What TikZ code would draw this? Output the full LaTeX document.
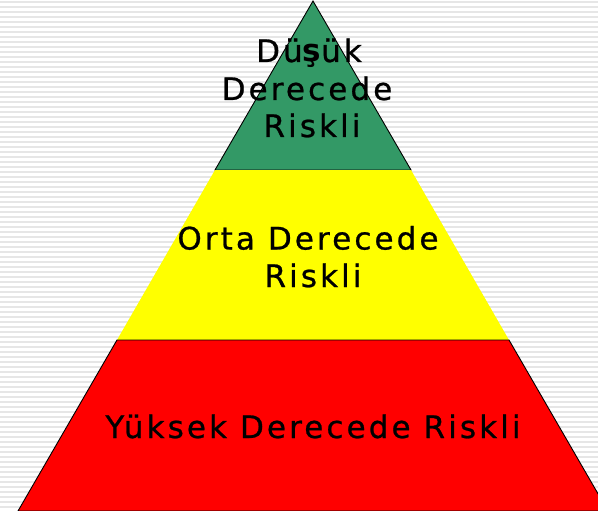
\documentclass[tikz,border=0pt]{standalone}
\usepackage{fontspec}
\newfontfamily\lblfont{DejaVu Sans}[LetterSpace=10, FakeBold=0.8]
\newfontfamily\lblboldfont{DejaVu Sans Bold}[LetterSpace=10]
\definecolor{stripe}{RGB}{230,230,230}
\definecolor{lowgreen}{RGB}{51,153,102}
\definecolor{midyellow}{RGB}{255,255,0}
\definecolor{highred}{RGB}{255,0,0}
\tikzset{
  lbl/.style={anchor=base, inner sep=0pt, font=\lblfont\fontsize{31}{37.5}\selectfont, text=black},
  band/.style={draw=black, line width=0.9pt, line join=miter}
}
\begin{document}
\begin{tikzpicture}[x=1pt,y=-1pt]
\useasboundingbox (0,0) rectangle (598,511);
\clip (0,0) rectangle (598,511);
\fill[white] (0,0) rectangle (598,511);
\foreach \i in {0,...,102} {
  \fill[stripe] (0,{5*\i+1}) rectangle (598,{5*\i+3});
}
% coordinates of the pyramid
\coordinate (apex) at (313,1);
\coordinate (gl) at (215,170);
\coordinate (gr) at (411,170);
\coordinate (yl) at (117,340);
\coordinate (yr) at (509,340);
\coordinate (bl) at (18,511);
\coordinate (br) at (608,511);
% bands
\filldraw[band, fill=lowgreen] (apex) -- (gr) -- (gl) -- cycle;
\fill[midyellow] (gl) -- (gr) -- (yr) -- (yl) -- cycle;
\filldraw[band, fill=highred] (yl) -- (yr) -- (br) -- (bl) -- cycle;
% labels
\node[lbl] (t1) at (309,62) {D\"u{\lblboldfont\fontsize{31}{37.5}\selectfont ş}\"uk};
\node[lbl] (t2) at (307,100) {Derecede};
\node[lbl] (t3) at (312,137) {Riskli};
\node[lbl] (t4) at (308,249.5) {Orta Derecede};
\node[lbl] (t5) at (313,287) {Riskli};
\node[lbl] (t6) at (313,438) {Yüksek Derecede Riskli};
\end{tikzpicture}
\end{document}
